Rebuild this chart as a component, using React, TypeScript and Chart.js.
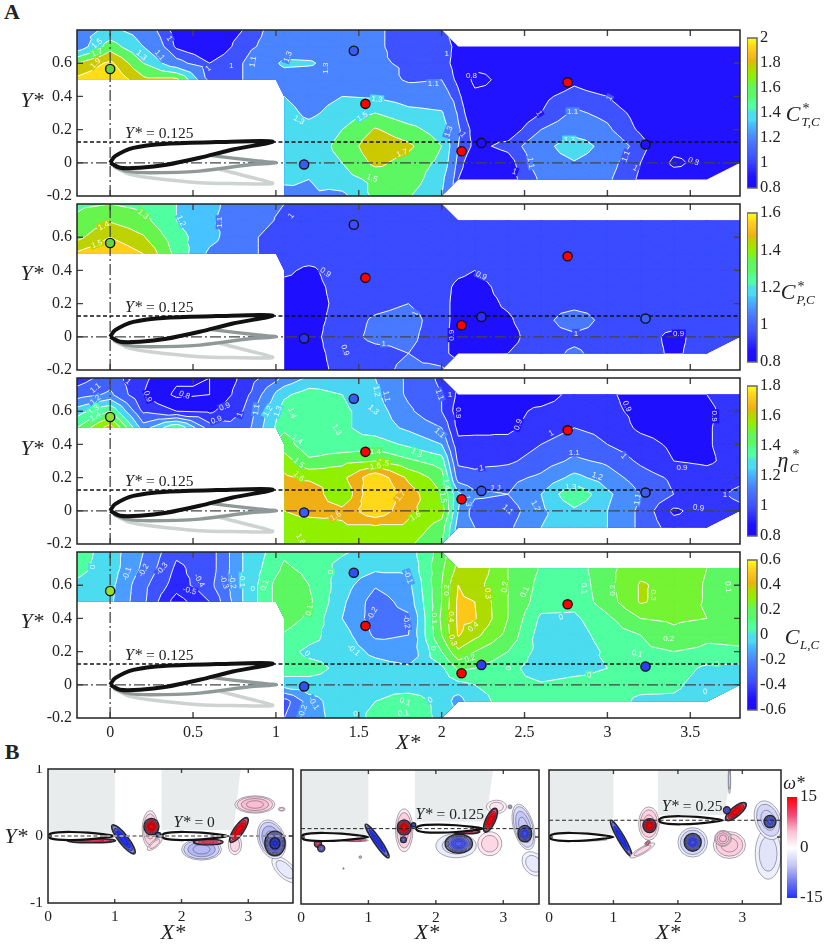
import { useRef, useEffect } from 'react';
import Chart from 'chart.js/auto';

const N = null;

// measurement grid shared by the four panels of A
const xNodes = [-0.2, 0, 0.2, 0.4, 0.6, 0.8, 1.05, 1.2, 1.4, 1.6, 1.8, 2, 2.1, 2.2, 2.4, 2.6, 2.8, 3, 3.2, 3.4, 3.6, 3.8];
const yNodes = [0.8, 0.7, 0.6, 0.5, 0.4, 0.3, 0.2, 0.1, 0, -0.1, -0.2];

const thrustGrid = [
  [1.2, 1.35, 1.2, .95, .9, 1.0, 1.2, 1.2, 1.2, 1.12, 1.05, 1.05, .9, .85, .85, .85, .85, .85, .85, .85, .85, .85],
  [1.15, 1.6, 1.3, .98, .9, 1.05, 1.2, 1.2, 1.2, 1.12, 1.05, 1.08, .95, .85, .85, .85, .85, .85, .85, .85, .85, .85],
  [1.7, 1.95, 1.5, 1.15, 1.0, 1.1, 1.33, 1.32, 1.22, 1.12, 1.08, 1.05, .95, .85, .85, .85, .85, .85, .85, .85, .85, .85],
  [1.95, 2.1, 1.75, 1.75, 1.05, 1.1, 1.22, 1.2, 1.22, 1.18, 1.08, 1.1, .97, .75, .85, .88, .97, .9, .85, .85, .85, .85],
  [N, N, N, N, N, 1.3, 1.3, 1.2, 1.3, 1.28, 1.2, 1.18, 1.03, .85, .85, .97, 1.05, 1.0, .88, .85, .85, .85],
  [N, N, N, N, N, N, 1.38, 1.25, 1.4, 1.5, 1.36, 1.32, 1.08, .88, .88, 1.0, 1.12, 1.07, .95, .85, .85, .85],
  [N, N, N, N, N, N, 1.4, 1.38, 1.5, 1.72, 1.57, 1.4, 1.12, .95, .93, 1.1, 1.18, 1.12, .98, .85, .85, .85],
  [N, N, N, N, N, N, 1.38, 1.4, 1.55, 1.85, 1.74, 1.5, 1.1, .97, 1.03, 1.2, 1.45, 1.2, 1.05, .85, .85, .85],
  [N, N, N, N, N, N, 1.35, 1.4, 1.5, 1.75, 1.62, 1.45, 1.05, .9, .95, 1.17, 1.28, 1.15, 1.0, .77, .85, .85],
  [N, N, N, N, N, N, 1.35, 1.3, 1.42, 1.55, 1.62, 1.35, 1.0, .9, .95, 1.12, 1.18, 1.12, .98, .88, .85, .85],
  [N, N, N, N, N, N, 1.2, 1.28, 1.25, 1.55, 1.52, 1.3, 1.0, .9, .95, 1.12, 1.18, 1.12, .98, .88, .85, .85],
];
const powerGrid = [
  [1.28, 1.3, 1.27, 1.2, 1.12, 1.06, 1.0, .97, .96, .96, .96, .95, .95, .95, .95, .95, .95, .95, .95, .95, .95, .95],
  [1.32, 1.39, 1.33, 1.2, 1.11, 1.06, .98, .96, .96, .96, .96, .95, .95, .95, .95, .95, .95, .95, .95, .95, .95, .95],
  [1.37, 1.5, 1.41, 1.24, 1.13, 1.03, .95, .95, .95, .95, .95, .95, .95, .95, .95, .95, .95, .95, .95, .95, .95, .95],
  [1.52, 1.6, 1.5, 1.27, 1.08, 1.03, .95, .95, .95, .95, .95, .95, .95, .95, .95, .95, .95, .95, .95, .95, .95, .95],
  [N, N, N, N, N, .95, .92, .88, .95, .95, .95, .95, .92, .9, .95, .95, .95, .95, .95, .95, .95, .95],
  [N, N, N, N, N, N, .87, .87, .93, .95, .95, .93, .88, .87, .93, .95, .95, .95, .95, .95, .95, .95],
  [N, N, N, N, N, N, .87, .87, .92, .96, 1.0, .93, .87, .87, .91, .95, .95, .95, .95, .95, .95, .95],
  [N, N, N, N, N, N, .87, .87, .93, 1.02, 1.05, .93, .87, .87, .89, .95, 1.08, .95, .95, .95, .95, .95],
  [N, N, N, N, N, N, .87, .87, .95, 1.03, 1.03, .93, .86, .87, .87, .95, .97, .95, .95, .87, .95, .95],
  [N, N, N, N, N, N, .87, .87, .93, .96, 1.0, .93, .86, .87, .9, .95, 1.02, .95, .95, .88, .95, .95],
  [N, N, N, N, N, N, .87, .87, .92, .96, 1.03, 1.02, .95, .95, .95, .95, 1.0, .95, .95, .95, .95, .95],
];
const efficiencyGrid = [
  [.95, 1.05, .92, .82, .8, .92, 1.12, 1.22, 1.22, 1.2, 1.08, .98, .95, .85, .86, .85, .93, .92, .85, .85, .9, .95],
  [1.05, 1.12, .9, .78, .8, .95, 1.28, 1.35, 1.3, 1.22, 1.08, 1.0, .88, .85, .86, .85, .93, .92, .85, .85, .9, .95],
  [1.25, 1.4, .98, .9, .88, 1.0, 1.35, 1.4, 1.32, 1.25, 1.12, 1.0, .85, .85, .87, .92, .95, .93, .87, .85, .88, .95],
  [1.4, 1.65, 1.15, 1.4, 1.05, 1.03, 1.38, 1.35, 1.32, 1.25, 1.18, 1.1, .87, .86, .88, .94, 1.0, .97, .88, .85, .89, .95],
  [N, N, N, N, N, 1.45, 1.45, 1.33, 1.33, 1.35, 1.28, 1.2, .93, .95, .93, 1.0, 1.06, 1.0, .94, .88, .89, .95],
  [N, N, N, N, N, N, 1.55, 1.42, 1.47, 1.5, 1.42, 1.35, .98, .97, .98, 1.05, 1.12, 1.08, .98, .9, .88, .95],
  [N, N, N, N, N, N, 1.62, 1.58, 1.57, 1.78, 1.58, 1.45, 1.05, 1.03, 1.07, 1.12, 1.23, 1.15, 1.05, .98, .95, .98],
  [N, N, N, N, N, N, 1.65, 1.68, 1.5, 1.82, 1.65, 1.5, 1.22, 1.12, 1.1, 1.2, 1.39, 1.22, 1.1, 1.0, .97, 1.02],
  [N, N, N, N, N, N, 1.6, 1.65, 1.63, 1.78, 1.62, 1.55, 1.2, 1.05, 1.05, 1.18, 1.28, 1.2, 1.08, .88, .95, .98],
  [N, N, N, N, N, N, 1.55, 1.52, 1.58, 1.58, 1.58, 1.45, 1.15, 1.1, 1.08, 1.2, 1.25, 1.2, 1.08, .95, .95, .95],
  [N, N, N, N, N, N, 1.52, 1.52, 1.52, 1.55, 1.52, 1.4, 1.15, 1.1, 1.08, 1.2, 1.25, 1.2, 1.08, .95, .95, .95],
];
const liftGrid = [
  [.05, -.05, -.2, -.38, -.35, -.1, .08, .03, .01, -.03, -.05, .15, .3, .38, .2, .09, .05, .17, .27, .26, .2, .11],
  [.03, -.05, -.22, -.42, -.35, -.1, .12, .07, -.03, -.08, -.08, .18, .33, .38, .2, .09, .05, .17, .27, .26, .2, .11],
  [-.02, -.07, -.27, -.45, -.33, -.1, .18, .1, -.05, -.19, -.13, .2, .4, .34, .2, .07, .03, .17, .31, .27, .19, .1],
  [-.05, -.08, -.28, -.55, -.4, -.1, .18, .12, -.08, -.25, -.16, .2, .42, .4, .2, .05, .03, .15, .31, .26, .19, .1],
  [N, N, N, N, N, .15, .15, .08, -.1, -.25, -.22, .22, .42, .41, .2, -.02, -.02, .08, .2, .22, .2, .15],
  [N, N, N, N, N, N, .09, .03, -.05, -.22, -.2, .2, .41, .33, .17, -.05, -.05, .05, .1, .17, .12, .12],
  [N, N, N, N, N, N, .03, -.02, -.03, -.13, -.18, .1, .28, .2, .1, -.04, -.07, .02, .08, .1, .08, .09],
  [N, N, N, N, N, N, .05, .03, -.02, -.05, -.08, -.02, .12, .1, .03, -.05, -.03, 0, .05, .05, -.02, -.03],
  [N, N, N, N, N, N, -.05, -.03, -.03, -.03, -.05, -.05, -.03, 0, .02, .01, .03, .03, .03, .02, -.05, -.05],
  [N, N, N, N, N, N, -.35, -.15, -.03, 0, .05, -.03, -.15, -.02, .02, .03, .05, .05, -.02, -.02, -.05, -.05],
  [N, N, N, N, N, N, -.3, -.15, -.05, .02, .08, -.03, -.05, -.02, .02, .03, .05, .05, -.02, -.02, -.05, -.05],
];

// outline of the measured region
const domainX = [-0.2, 2, 2.1, 3.8, 3.8, 3.6, 2.1, 2, 1.05, 1.05, 1, -0.2];
const domainY = [0.8, 0.8, 0.7, 0.7, 0, -0.1, -0.1, -0.2, -0.2, 0.4, 0.5, 0.5];

const thrustLevels = [1, 1.1, 1.3, 1.5, 1.7, 1.9];
const thrustLines = [0.8, 1, 1.1, 1.3, 1.5, 1.7, 1.9];
const powerLevels = [0.9, 1, 1.1, 1.2, 1.3, 1.4, 1.5];
const effLevels = [0.9, 1, 1.1, 1.2, 1.3, 1.4, 1.5, 1.6, 1.7];
const effLines = [0.8, 0.9, 1, 1.1, 1.2, 1.3, 1.4, 1.5, 1.6, 1.7];
const liftLevels = [-0.5, -0.4, -0.3, -0.2, -0.1, 0, 0.1, 0.2, 0.3, 0.4];

// contour labels: x, y, text, rotation
const thrustLabels: any[] = [
  [-.08, .72, '1.5', -40], [-.08, .665, '1.7', -20], [-.09, .6, '1.9', -45], [.19, .65, '1.3', 40], [.3, .65, '1.1', 50], [.36, .75, '1', 60],
  [.59, .57, '1', -40], [.86, .61, '1.1', -80], [.73, .59, '1', 0], [1.07, .64, '1.3', -70], [1.3, .57, '1.3', -90], [1.14, .26, '1.3', 30],
  [1.61, .385, '1.3', 5], [1.52, .28, '1.5', -30], [1.76, .06, '1.7', -20], [1.58, -.09, '1.5', 20], [1.95, .48, '1.1', 0], [2.04, .19, '1.3', -70],
  [2.03, .66, '1', 0], [2.13, .17, '1', 50], [2.18, .53, '0.8', 0], [2.59, .3, '1', 60], [2.79, .31, '1.1', 0], [2.77, .14, '1.3', 0],
  [3.01, .39, '1', -60], [3.11, .04, '1.1', -70], [2.44, -.05, '1', 20], [2.54, 0, '1.1', 80], [3.17, -.03, '1', 30], [3.52, .01, '0.8', 20],
];
const powerLabels: any[] = [
  [.2, .74, '1.3', 40], [-.04, .67, '1.4', -25], [-.08, .56, '1.5', -20], [.43, .7, '1.2', 65], [.66, .69, '1.1', -90], [1.09, .73, '1', -50],
  [1.3, .39, '0.9', 35], [1.42, -.08, '0.9', 70], [1.65, -.04, '1', 0], [1.84, .14, '1', -60], [2.24, .37, '0.9', 25], [2.06, .01, '0.9', -90],
  [2.81, .024, '1', 0], [3.43, .02, '0.9', 0],
];
const effLabels: any[] = [
  [-.09, .74, '1.1', -40], [-.09, .67, '1.2', -40], [-.1, .61, '1.3', -40], [-.09, .57, '1.4', -30], [.11, .78, '1', 40], [.23, .69, '0.9', 70],
  [.45, .7, '0.8', 20], [.69, .63, '0.9', -20], [.64, .55, '0.9', -20], [.78, .58, '1', -70], [.88, .61, '1.1', -80], [.95, .6, '1.2', -60],
  [1.01, .6, '1.3', -70], [1.1, .59, '1.4', 70], [1.37, .49, '1.3', 60], [1.61, .72, '1.2', 80], [1.67, .69, '1.1', 80], [1.59, .61, '1.3', 40],
  [1.13, .43, '1.4', 35], [1.14, .29, '1.5', 40], [1.14, .21, '1.6', 40], [1.6, .36, '1.4', 0], [1.65, .29, '1.5', 10], [1.6, .27, '1.6', -10],
  [1.75, .09, '1.7', -50], [1.36, -.03, '1.6', -30], [1.15, -.17, '1.6', 60], [1.85, .35, '1.3', 30], [1.84, -.03, '1.6', -30], [1.99, .7, '1.1', 70],
  [2.05, .7, '1', 0], [2.1, .59, '0.9', 90], [2.46, .52, '0.9', -70], [2.66, .47, '1', -30], [2.24, .26, '1', -10], [2.33, .14, '1.1', 0],
  [2.8, .35, '1.1', 0], [3.1, .33, '1', 50], [2.94, .21, '1.2', 20], [2.78, .15, '1.3', 0], [2.57, .03, '1.2', 60], [2.4, .01, '1.1', 40],
  [3.18, .07, '1.1', -80], [3.12, .63, '0.9', 65], [3.45, .26, '0.9', 0], [3.65, .57, '0.9', 90], [3.55, .02, '0.9', 10], [3.71, .1, '1', 0],
  [1.99, .47, '1.1', 40], [2.01, .08, '1.5', 80], [2.03, .16, '1.4', 80], [2.16, .06, '1.3', 80],
];
const liftLabels: any[] = [
  [-.11, .71, '0', -90], [.1, .67, '-0.1', -70], [.2, .69, '-0.2', -60], [.31, .7, '-0.3', -50], [.54, .63, '-0.4', 60], [.48, .57, '-0.5', 15],
  [.69, .62, '-0.3', 70], [.74, .62, '-0.2', 80], [.8, .63, '-0.1', 90], [.86, .58, '0', 0], [.93, .6, '0.1', -70], [1.2, .45, '0.1', -80],
  [1.33, .68, '0', 90], [1.19, .19, '0', 40], [1.47, .21, '-0.1', 40], [1.58, .43, '-0.2', -60], [1.79, .38, '-0.2', 80], [1.8, .65, '-0.1', 70],
  [1.23, -.11, '-0.1', 60], [1.16, -.16, '-0.2', -70], [1.48, -.17, '0', 0], [1.78, -.1, '0.1', 20], [1.77, -.17, '0.1', -5], [1.96, .4, '0.1', 90],
  [2.03, .57, '0.2', -90], [1.95, .22, '0', 90], [2.06, .41, '0.4', 90], [2.19, .35, '0.4', -40], [2.07, .27, '0.3', 70], [2.28, .55, '0.3', 85],
  [2.38, .59, '0.2', -85], [2.17, .16, '0.2', -15], [2.5, .56, '0.1', -65], [2.72, .41, '0', -20], [2.86, .58, '0.1', 85], [3.03, .57, '0.2', -90],
  [3.28, .54, '0.3', 90], [3.37, .28, '0.2', 0], [3.18, .19, '0.1', 15], [2.4, .1, '0', -90], [2.89, .06, '0', -5], [3.59, -.04, '0', -5],
  [3.66, .13, '0', 0], [3.73, .59, '0.1', 85], [1.93, -.09, '0', -30],
];

// force sensor locations
const markerX = [0, 1.47, 1.54, 1.17, 2.12, 2.24, 2.76, 3.23];
const markerY = [0.565, 0.675, 0.355, -0.01, 0.07, 0.12, 0.485, 0.11];
const thrustMarkers = ['#63d83c', '#3a5cf0', '#ff0000', '#3a5cf0', '#ff0000', '#2010ff', '#ff0000', '#2010ff'];
const powerMarkers = ['#63d83c', '#3c4cff', '#ff0000', '#2c30ff', '#ff0000', '#2c30ff', '#ff0000', '#3a60f5'];
const effMarkers = ['#8fe030', '#3a5cf0', '#ff0000', '#3a5cf0', '#ff0000', '#3a5cf0', '#ff0000', '#3a5cf0'];
const liftMarkers = ['#8fe030', '#3050f0', '#ff0000', '#3050f0', '#ff0000', '#2c40f0', '#ff0000', '#2c40f0'];

const foilBlackX = [0, .03, .14, .34, .64, .98, .74, .54, .34, .18, .06, 0];
const foilBlackY = [0, .04, .09, .115, .125, .128, .08, .03, -.012, -.03, -.03, 0];
const foilGreyX = [.02, .1, .24, .54, .84, 1, .88, .6];
const foilGreyY = [-.02, -.05, -.06, -.05, -.012, 0, .012, .045];
const foilLightX = [.03, .12, .24, .54, .74, .98, .86, .66];
const foilLightY = [-.03, -.07, -.09, -.12, -.125, -.125, -.09, -.04];

const xTicks = [0, 0.5, 1, 1.5, 2, 2.5, 3, 3.5];
const yTicks = [-0.2, 0, 0.2, 0.4, 0.6];

const wakeFoilX = [0, .04, .15, .35, .6, .85, 1, .85, .6, .35, .15, .04, 0];
const wakeFoilY = [0, .035, .055, .06, .05, .025, 0, -.025, -.05, -.06, -.055, -.035, 0];

// vortex patches: x, y, half length, half width, tilt, peak vorticity
const vorticesZero: any[] = [
  [.65, -.07, .36, .03, 0, 11], [1.13, -.05, .27, .07, -52, -15], [1.53, .1, .12, .28, 0, 4], [1.6, -.12, .14, .05, 40, 3], [1.55, .14, .11, .12, 0, 15],
  [1.65, .02, .04, .03, 0, -10], [2.3, -.2, .3, .16, 0, -6], [2.4, -.09, .22, .04, 0, 10], [2.8, -.13, .1, .15, 0, 3], [2.86, .09, .22, .07, 55, 15],
  [3.1, .47, .3, .13, 0, 5], [3.5, .4, .05, .03, 0, 2], [3.55, -.5, .25, .12, -45, -2], [3.35, -.05, .2, .3, 20, -6], [3.4, -.11, .15, .18, 0, -12], [3.4, -.11, .07, .08, 0, -15],
];
const vorticesMid: any[] = [
  [.8, -.05, .2, .02, 0, 8], [.25, -.1, .05, .05, 0, 10], [.3, -.17, .05, .05, 0, -10], [.88, -.3, .02, .02, 0, -2], [.63, -.47, .01, .01, 0, -4],
  [1.13, -.06, .3, .05, -55, -15], [1.53, .1, .13, .32, 0, 4], [1.53, .14, .1, .11, 0, 15], [1.67, .18, .03, .03, 0, -12], [1.52, -.04, .04, .04, 0, -10],
  [2.3, -.13, .3, .18, 0, -3], [2.34, -.1, .2, .14, 0, -12], [2.45, .08, .2, .03, 0, 10], [2.8, -.1, .18, .18, 35, 3], [2.9, .45, .15, .1, 0, 2], [2.81, .25, .19, .07, 65, 15],
  [3.45, -.4, .2, .15, -50, -2], [3.3, .15, .15, .35, 15, -5], [3.32, .05, .1, .12, 0, -13], [3.1, .45, .03, .03, 0, -4],
];
const vorticesHigh: any[] = [
  [.6, -.04, .3, .02, 0, 3], [1.12, -.02, .32, .05, -60, -15], [1.55, .2, .16, .25, 0, 4], [1.56, .17, .1, .1, 0, 15], [1.45, -.2, .22, .05, 30, 3], [1.53, -.09, .05, .03, 40, 8],
  [2.23, -.08, .23, .22, 0, -4], [2.23, -.08, .13, .13, 0, -13], [2.8, -.12, .25, .2, 0, 4], [2.7, -.02, .13, .12, 0, 5], [2.9, .38, .2, .07, 40, 15], [2.76, .4, .05, .05, 0, -12], [2.8, .85, .02, .2, 0, -3],
  [3.4, -.25, .2, .38, 0, -2.5], [3.4, .25, .2, .3, 20, -4], [3.43, .23, .09, .09, 0, -12],
];

const maskZeroX = [[0, 1, 1, 0], [1.7, 2.885, 2.78, 1.7]];
const maskZeroY = [[1, 1, .04, .04], [1, 1, .09, .09]];
const maskMidX = [[0, 1, 1, 0], [1.69, 2.85, 2.74, 1.69]];
const maskMidY = [[1, 1, .03, .03], [1, 1, .23, .23]];
const maskHighX = [[0, 1, 1, 0], [1.69, 2.83, 2.72, 1.69]];
const maskHighY = [[1, 1, .05, .05], [1, 1, .33, .33]];

const wakeXTicks = [0, 1, 2, 3];
const wakeYTicks = [-1, 0, 1];

const serif = '"Liberation Serif", serif';

// blue -> cyan -> green -> yellow map, sampled from the bands
const stops: [number, number[]][] = [
  [0, [26, 12, 255]], [.08, [32, 16, 255]], [.19, [60, 76, 255]], [.32, [74, 124, 255]], [.4375, [71, 196, 255]], [.455, [76, 220, 240]], [.5, [76, 220, 240]],
  [.54, [80, 255, 160]], [.57, [80, 255, 160]], [.62, [92, 247, 98]], [.67, [92, 247, 98]], [.75, [144, 240, 0]], [.835, [205, 200, 0]], [.85, [238, 176, 21]], [.94, [255, 208, 28]], [1, [255, 255, 16]],
];
function cmap(t: number) {
  t = Math.max(0, Math.min(1, t));
  for (let i = 1; i < stops.length; i++) {
    if (t <= stops[i][0]) {
      const f = (t - stops[i - 1][0]) / (stops[i][0] - stops[i - 1][0]);
      const c = stops[i - 1][1].map((a, k) => Math.round(a + (stops[i][1][k] - a) * f));
      return `rgb(${c[0]},${c[1]},${c[2]})`;
    }
  }
  return 'rgb(255,255,16)';
}

const wakeStopsPos = [[255, 255, 255], [249, 190, 210], [240, 70, 115], [255, 0, 10]];
const wakeStopsNeg = [[255, 255, 255], [197, 200, 245], [112, 120, 238], [32, 48, 255]];
function wakeColor(v: number) {
  const list = v >= 0 ? wakeStopsPos : wakeStopsNeg;
  const t = Math.min(1, Math.abs(v) / 15) * 3;
  const i = Math.min(2, Math.floor(t));
  const f = t - i;
  const c = list[i].map((a, k) => Math.round(a + (list[i + 1][k] - a) * f));
  return `rgb(${c[0]},${c[1]},${c[2]})`;
}

function clipAbove(tri: number[][], level: number) {
  const out: number[][] = [];
  for (let i = 0; i < tri.length; i++) {
    const a = tri[i];
    const b = tri[(i + 1) % tri.length];
    if (a[2] >= level) out.push(a);
    if ((a[2] >= level) !== (b[2] >= level)) {
      const f = (level - a[2]) / (b[2] - a[2]);
      out.push([a[0] + (b[0] - a[0]) * f, a[1] + (b[1] - a[1]) * f, level]);
    }
  }
  return out;
}

function triangles(grid: (number | null)[][]) {
  const list: number[][][] = [];
  for (let r = 0; r < yNodes.length - 1; r++) {
    for (let c = 0; c < xNodes.length - 1; c++) {
      const v = [grid[r][c], grid[r][c + 1], grid[r + 1][c + 1], grid[r + 1][c]];
      if (v.some((a) => a === null)) continue;
      const p = [
        [xNodes[c], yNodes[r], v[0]], [xNodes[c + 1], yNodes[r], v[1]],
        [xNodes[c + 1], yNodes[r + 1], v[2]], [xNodes[c], yNodes[r + 1], v[3]],
      ] as number[][];
      const m = [(xNodes[c] + xNodes[c + 1]) / 2, (yNodes[r] + yNodes[r + 1]) / 2, (p[0][2] + p[1][2] + p[2][2] + p[3][2]) / 4];
      for (let k = 0; k < 4; k++) list.push([p[k], p[(k + 1) % 4], m]);
    }
  }
  return list;
}

function valueAt(grid: (number | null)[][], x: number, y: number) {
  let c = 0;
  while (c < xNodes.length - 2 && xNodes[c + 1] < x) c++;
  let r = 0;
  while (r < yNodes.length - 2 && yNodes[r + 1] > y) r++;
  const fx = Math.max(0, Math.min(1, (x - xNodes[c]) / (xNodes[c + 1] - xNodes[c])));
  const fy = Math.max(0, Math.min(1, (y - yNodes[r]) / (yNodes[r + 1] - yNodes[r])));
  const g = (a: number, b: number) => (grid[a][b] ?? grid[a][xNodes.length - 1]) as number;
  return (g(r, c) * (1 - fx) + g(r, c + 1) * fx) * (1 - fy) + (g(r + 1, c) * (1 - fx) + g(r + 1, c + 1) * fx) * fy;
}

const framePlugin = {
  id: 'frame',
  afterDraw(chart: any) {
    const { ctx, chartArea: a, scales } = chart;
    const len = chart.options.plugins.frame.tick;
    ctx.save();
    ctx.strokeStyle = '#444';
    ctx.lineWidth = 1.4;
    ctx.beginPath();
    scales.x.ticks.forEach((t: any) => {
      const p = scales.x.getPixelForValue(t.value);
      if (p <= a.left + 1 || p >= a.right - 1) return;
      ctx.moveTo(p, a.top); ctx.lineTo(p, a.top + len);
      ctx.moveTo(p, a.bottom); ctx.lineTo(p, a.bottom - len);
    });
    scales.y.ticks.forEach((t: any) => {
      const p = scales.y.getPixelForValue(t.value);
      if (p <= a.top + 1 || p >= a.bottom - 1) return;
      ctx.moveTo(a.left, p); ctx.lineTo(a.left + len, p);
      ctx.moveTo(a.right, p); ctx.lineTo(a.right - len, p);
    });
    ctx.stroke();
    ctx.strokeStyle = '#222';
    ctx.lineWidth = 1.5;
    ctx.strokeRect(a.left, a.top, a.right - a.left, a.bottom - a.top);
    ctx.restore();
  },
};

// the tick labels must not push the plot area in, every frame sits at a fixed place
function noPadding(s: any) {
  s.paddingTop = 0;
  s.paddingBottom = 0;
  s.paddingLeft = 0;
  s.paddingRight = 0;
}

function axisOptions(xT: number[], yT: number[], xMin: number, xMax: number, yMin: number, yMax: number, m: any, showX: boolean, showY: boolean, size: number) {
  return {
    x: {
      type: 'linear', min: xMin, max: xMax,
      afterBuildTicks: (s: any) => { s.ticks = xT.map((v) => ({ value: v })); },
      afterFit: (s: any) => { s.height = m.bottom; noPadding(s); },
      grid: { display: false, drawTicks: false }, border: { display: false },
      ticks: { display: !!showX, autoSkip: false, maxRotation: 0, padding: 5, color: '#222', font: { family: serif, size }, callback: (v: any) => String(v) },
    },
    y: {
      type: 'linear', min: yMin, max: yMax,
      afterBuildTicks: (s: any) => { s.ticks = yT.map((v) => ({ value: v })); },
      afterFit: (s: any) => { s.width = m.left; noPadding(s); },
      grid: { display: false, drawTicks: false }, border: { display: false },
      ticks: { display: !!showY, autoSkip: false, padding: 5, color: '#222', font: { family: serif, size }, callback: (v: any) => String(v) },
    },
  };
}

function useChart(build: (c: HTMLCanvasElement) => Chart) {
  const ref = useRef<HTMLCanvasElement>(null);
  useEffect(() => {
    if (!ref.current) return;
    const chart = build(ref.current);
    return () => chart.destroy();
  }, []);
  return ref;
}

function FieldPanel({ left, top, grid, levels, lines, cmin, cmax, labels, markers, showX }: any) {
  const m = { left: 50, top: 4, right: 3, bottom: showX ? 26 : 4 };
  const W = 663;
  const H = 166;
  const ref = useChart((canvas) => {
    const tris = triangles(grid);
    const bands = [cmin, ...levels, cmax];
    const bandColor = (i: number) => cmap(((bands[i] + bands[i + 1]) / 2 - cmin) / (cmax - cmin));
    const colorOf = (v: number) => {
      let i = 0;
      while (i < levels.length && v >= levels[i]) i++;
      return bandColor(i);
    };
    const contourPlugin = {
      id: 'contour',
      beforeDatasetsDraw(chart: any) {
        const { ctx, scales } = chart;
        const px = (p: number[]) => [scales.x.getPixelForValue(p[0]), scales.y.getPixelForValue(p[1])];
        ctx.save();
        ctx.beginPath();
        domainX.forEach((x, i) => {
          const q = px([x, domainY[i]]);
          if (i) ctx.lineTo(q[0], q[1]); else ctx.moveTo(q[0], q[1]);
        });
        ctx.closePath();
        ctx.clip();
        ctx.fillStyle = bandColor(0);
        ctx.fillRect(0, 0, chart.width, chart.height);
        levels.forEach((lv: number, li: number) => {
          ctx.beginPath();
          tris.forEach((t) => {
            const poly = clipAbove(t, lv);
            if (poly.length < 3) return;
            poly.forEach((p, i) => {
              const q = px(p);
              if (i) ctx.lineTo(q[0], q[1]); else ctx.moveTo(q[0], q[1]);
            });
            ctx.closePath();
          });
          ctx.fillStyle = bandColor(li + 1);
          ctx.strokeStyle = bandColor(li + 1);
          ctx.lineWidth = 0.6;
          ctx.fill();
          ctx.stroke();
        });
        ctx.strokeStyle = 'rgba(255,255,255,0.95)';
        ctx.lineWidth = 1;
        ctx.lineJoin = 'round';
        lines.forEach((lv0: number) => {
          const lv = lv0 + 1e-6;
          ctx.beginPath();
          tris.forEach((t) => {
            const pts: number[][] = [];
            for (let i = 0; i < 3; i++) {
              const a = t[i];
              const b = t[(i + 1) % 3];
              if ((a[2] >= lv) !== (b[2] >= lv)) {
                const f = (lv - a[2]) / (b[2] - a[2]);
                pts.push(px([a[0] + (b[0] - a[0]) * f, a[1] + (b[1] - a[1]) * f]));
              }
            }
            if (pts.length === 2) {
              ctx.moveTo(pts[0][0], pts[0][1]);
              ctx.lineTo(pts[1][0], pts[1][1]);
            }
          });
          ctx.stroke();
        });
        ctx.font = '8px "Liberation Sans", sans-serif';
        ctx.textAlign = 'center';
        ctx.textBaseline = 'middle';
        labels.forEach((l: any) => {
          const q = px([l[0], l[1]]);
          ctx.save();
          ctx.translate(q[0], q[1]);
          ctx.rotate((l[3] * Math.PI) / 180);
          const w = ctx.measureText(l[2]).width + 3;
          ctx.fillStyle = colorOf(valueAt(grid, l[0], l[1]));
          ctx.fillRect(-w / 2, -4, w, 8);
          ctx.fillStyle = 'rgba(255,255,255,0.9)';
          ctx.fillText(l[2], 0, 0.5);
          ctx.restore();
        });
        ctx.restore();
      },
      afterDatasetsDraw(chart: any) {
        const { ctx, scales } = chart;
        ctx.save();
        ctx.fillStyle = '#222';
        ctx.textBaseline = 'middle';
        ctx.font = `italic 16px ${serif}`;
        const x0 = scales.x.getPixelForValue(0.09);
        const y0 = scales.y.getPixelForValue(0.175);
        ctx.fillText('Y*', x0, y0);
        ctx.font = `15.5px ${serif}`;
        ctx.fillText('= 0.125', x0 + 21, y0);
        ctx.restore();
      },
    };
    const pairs = (xs: number[], ys: number[]) => xs.map((x, i) => ({ x, y: ys[i] }));
    return new Chart(canvas, {
      type: 'scatter',
      data: {
        datasets: [
          {
            data: pairs(markerX, markerY), pointRadius: 4.6, pointBorderWidth: 1.4, pointBorderColor: '#111', pointBackgroundColor: markers,
          },
          { data: pairs(foilBlackX, foilBlackY), showLine: true, tension: 0.3, borderColor: '#111', borderWidth: 4, pointRadius: 0 },
          { data: pairs(foilGreyX, foilGreyY), showLine: true, tension: 0.3, borderColor: '#8f9a98', borderWidth: 3.4, pointRadius: 0 },
          { data: pairs(foilLightX, foilLightY), showLine: true, tension: 0.3, borderColor: '#cdd3d1', borderWidth: 3.4, pointRadius: 0 },
          { data: pairs([-0.2, 3.8], [0.125, 0.125]), showLine: true, borderColor: '#111', borderWidth: 1.6, borderDash: [4, 2.5], pointRadius: 0 },
          { data: pairs([-0.2, 3.8], [0, 0]), showLine: true, borderColor: '#444', borderWidth: 1.3, borderDash: [11, 3, 2, 3], pointRadius: 0 },
          { data: pairs([0, 0], [-0.2, 0.8]), showLine: true, borderColor: '#444', borderWidth: 1.3, borderDash: [11, 3, 2, 3], pointRadius: 0 },
        ],
      },
      options: {
        animation: false, responsive: false,
        layout: { autoPadding: false, padding: { left: 0, top: m.top, right: m.right, bottom: 0 } },
        plugins: { legend: { display: false }, tooltip: { enabled: false }, frame: { tick: 6 } },
        scales: axisOptions(xTicks, yTicks, -0.2, 3.8, -0.2, 0.8, m, showX, true, 16),
      } as any,
      plugins: [contourPlugin, framePlugin],
    } as any);
  });
  return (
    <div style={{ position: 'absolute', left: left - m.left, top: top - m.top }}>
      <canvas ref={ref} width={W + m.left + m.right} height={H + m.top + m.bottom} />
    </div>
  );
}

function ColorBar({ left, top, bottom, min, max, ticks, wake }: any) {
  const m = { left: 0, top: 10, right: 42, bottom: 10 };
  const W = 10;
  const H = bottom - top;
  const ref = useChart((canvas) => {
    const barPlugin = {
      id: 'bar',
      beforeDatasetsDraw(chart: any) {
        const { ctx, chartArea: a } = chart;
        for (let y = Math.floor(a.top); y < a.bottom; y++) {
          const t = 1 - (y - a.top) / (a.bottom - a.top);
          ctx.fillStyle = wake ? wakeColor(t * 30 - 15) : cmap(t);
          ctx.fillRect(a.left, y, a.right - a.left, 1);
        }
        if (!wake) {
          ctx.strokeStyle = '#666';
          ctx.lineWidth = 1.5;
          ctx.strokeRect(a.left, a.top, a.right - a.left, a.bottom - a.top);
        }
      },
    };
    return new Chart(canvas, {
      type: 'scatter',
      data: { datasets: [{ data: [], pointRadius: 0 }] },
      options: {
        animation: false, responsive: false,
        layout: { autoPadding: false, padding: { left: 0, top: m.top, right: 0, bottom: m.bottom } },
        plugins: { legend: { display: false }, tooltip: { enabled: false } },
        scales: {
          x: { type: 'linear', display: false, min: 0, max: 1 },
          y: {
            type: 'linear', position: 'right', min, max,
            afterBuildTicks: (s: any) => { s.ticks = ticks.map((v: number) => ({ value: v })); },
            afterFit: (s: any) => { s.width = m.right; noPadding(s); },
            grid: { display: false, drawTicks: false }, border: { display: false },
            ticks: { autoSkip: false, padding: 3, color: '#222', font: { family: serif, size: wake ? 17 : 16.5 }, callback: (v: any) => String(v) },
          },
        },
      } as any,
      plugins: [barPlugin],
    } as any);
  });
  return (
    <div style={{ position: 'absolute', left, top: top - m.top }}>
      <canvas ref={ref} width={W + m.right} height={H + m.top + m.bottom} />
    </div>
  );
}

function WakePanel({ left, top, right, bottom, xMax, yStar, lineColor, lineWidth, vortices, maskX, maskY, showY, label, labelX }: any) {
  const m = { left: 24, top: 4, right: 3, bottom: 24 };
  const W = right - left;
  const H = bottom - top;
  const ref = useChart((canvas) => {
    const wakePlugin = {
      id: 'wake',
      beforeDatasetsDraw(chart: any) {
        const { ctx, scales, chartArea: a } = chart;
        const X = (v: number) => scales.x.getPixelForValue(v);
        const Y = (v: number) => scales.y.getPixelForValue(v);
        ctx.save();
        ctx.beginPath();
        ctx.rect(a.left, a.top, a.right - a.left, a.bottom - a.top);
        ctx.clip();
        ctx.fillStyle = '#e9ecec';
        maskX.forEach((xs: number[], k: number) => {
          ctx.beginPath();
          xs.forEach((x, i) => {
            if (i) ctx.lineTo(X(x), Y(maskY[k][i])); else ctx.moveTo(X(x), Y(maskY[k][i]));
          });
          ctx.closePath();
          ctx.fill();
        });
        vortices.forEach((b: any) => {
          const cx = X(b[0]);
          const cy = Y(b[1]);
          const rx = X(b[0] + b[2]) - cx;
          const ry = cy - Y(b[1] + b[3]);
          const size = Math.min(rx, ry);
          const strong = Math.abs(b[5]) >= 10;
          const n = Math.max(2, Math.min(Math.ceil(size / 1.2) + 1, Math.ceil(Math.abs(b[5]) / 1.6)));
          for (let i = 0; i < n; i++) {
            const f = 1 - Math.pow(i / n, 1.5) * 0.88;
            ctx.beginPath();
            ctx.ellipse(cx, cy, rx * f, ry * f, (-b[4] * Math.PI) / 180, 0, Math.PI * 2);
            ctx.fillStyle = wakeColor(b[5] * Math.min(1, ((i + 0.8) / n) * 1.5));
            ctx.fill();
            ctx.strokeStyle = strong ? `rgba(20,20,28,${i < n / 2 ? 0.9 : 0.45})` : 'rgba(40,40,55,0.55)';
            ctx.lineWidth = strong && i === 0 ? 1.7 : 0.7;
            ctx.stroke();
          }
        });
        ctx.fillStyle = '#fff';
        [[0, 0], [1.7, yStar]].forEach((o) => {
          ctx.beginPath();
          wakeFoilX.forEach((x, i) => {
            if (i) ctx.lineTo(X(x + o[0]), Y(wakeFoilY[i] + o[1])); else ctx.moveTo(X(x + o[0]), Y(wakeFoilY[i] + o[1]));
          });
          ctx.closePath();
          ctx.fill();
        });
        ctx.restore();
      },
      afterDatasetsDraw(chart: any) {
        const { ctx, scales } = chart;
        ctx.save();
        ctx.fillStyle = '#222';
        ctx.textBaseline = 'middle';
        const x0 = scales.x.getPixelForValue(labelX);
        const y0 = scales.y.getPixelForValue(yStar + 0.2);
        ctx.font = `italic 16px ${serif}`;
        ctx.fillText('Y*', x0, y0);
        ctx.font = `15.5px ${serif}`;
        ctx.fillText(`= ${label}`, x0 + 21, y0);
        ctx.restore();
      },
    };
    const foil = (dx: number, dy: number) => wakeFoilX.map((x, i) => ({ x: x + dx, y: wakeFoilY[i] + dy }));
    return new Chart(canvas, {
      type: 'scatter',
      data: {
        datasets: [
          { data: [{ x: 0, y: yStar }, { x: xMax, y: yStar }], showLine: true, borderColor: lineColor, borderWidth: lineWidth, borderDash: [4, 2.5], pointRadius: 0 },
          { data: foil(0, 0), showLine: true, tension: 0.3, borderColor: '#111', borderWidth: 2.2, pointRadius: 0 },
          { data: foil(1.7, yStar), showLine: true, tension: 0.3, borderColor: '#111', borderWidth: 2.2, pointRadius: 0 },
        ],
      },
      options: {
        animation: false, responsive: false,
        layout: { autoPadding: false, padding: { left: 0, top: m.top, right: m.right, bottom: 0 } },
        plugins: { legend: { display: false }, tooltip: { enabled: false }, frame: { tick: 4 } },
        scales: axisOptions(wakeXTicks, wakeYTicks, 0, xMax, -1, 1, m, true, showY, 15.5),
      } as any,
      plugins: [wakePlugin, framePlugin],
    } as any);
  });
  return (
    <div style={{ position: 'absolute', left: left - m.left, top: top - m.top }}>
      <canvas ref={ref} width={W + m.left + m.right} height={H + m.top + m.bottom} />
    </div>
  );
}

function Txt({ x, y, size = 20, italic = false, bold = false, children }: any) {
  return (
    <span style={{
      position: 'absolute', left: x, top: y, transform: 'translate(-50%,-50%)', fontFamily: serif, fontSize: size,
      fontStyle: italic ? 'italic' : 'normal', fontWeight: bold ? 700 : 400, color: '#222', whiteSpace: 'nowrap', lineHeight: 1,
    }}>{children}</span>
  );
}

function Symbol({ x, y, base, sub, star = true }: any) {
  return (
    <>
      <Txt x={x} y={y} size={22} italic>{base}</Txt>
      {star && <Txt x={x + 13} y={y - 5} size={14}>*</Txt>}
      <Txt x={x + 8 + sub.length * 3.2} y={y + 7} size={13} italic>{sub}</Txt>
    </>
  );
}

export default function App() {
  return (
    <div style={{ position: 'absolute', left: 0, top: 0, width: 831, height: 946, background: '#fff', overflow: 'hidden' }}>
      <Txt x={12} y={12} size={22} bold>A</Txt>
      <Txt x={12} y={752} size={22} bold>B</Txt>

      <FieldPanel left={77} top={30} grid={thrustGrid} levels={thrustLevels} lines={thrustLines} cmin={0.8} cmax={2} labels={thrustLabels} markers={thrustMarkers} />
      <FieldPanel left={77} top={204} grid={powerGrid} levels={powerLevels} lines={powerLevels} cmin={0.8} cmax={1.6} labels={powerLabels} markers={powerMarkers} />
      <FieldPanel left={77} top={378} grid={efficiencyGrid} levels={effLevels} lines={effLines} cmin={0.8} cmax={1.8} labels={effLabels} markers={effMarkers} />
      <FieldPanel left={77} top={552} grid={liftGrid} levels={liftLevels} lines={liftLevels} cmin={-0.6} cmax={0.6} labels={liftLabels} markers={liftMarkers} showX />

      <ColorBar left={747} top={38} bottom={188} min={0.8} max={2} ticks={[0.8, 1, 1.2, 1.4, 1.6, 1.8, 2]} />
      <ColorBar left={747} top={213} bottom={362} min={0.8} max={1.6} ticks={[0.8, 1, 1.2, 1.4, 1.6]} />
      <ColorBar left={747} top={386} bottom={536} min={0.8} max={1.8} ticks={[0.8, 1, 1.2, 1.4, 1.6, 1.8]} />
      <ColorBar left={747} top={560} bottom={710} min={-0.6} max={0.6} ticks={[-0.6, -0.4, -0.2, 0, 0.2, 0.4, 0.6]} />
      <ColorBar left={787} top={797} bottom={898} min={-15} max={15} ticks={[-15, 0, 15]} wake />

      <Txt x={32} y={100} size={22} italic>Y*</Txt>
      <Txt x={32} y={273} size={22} italic>Y*</Txt>
      <Txt x={32} y={448} size={22} italic>Y*</Txt>
      <Txt x={32} y={621} size={22} italic>Y*</Txt>
      <Txt x={408} y={742} size={22} italic>X*</Txt>

      <Symbol x={793} y={114} base="C" sub="T,C" />
      <Symbol x={788} y={292} base="C" sub="P,C" />
      <Symbol x={783} y={460} base="η" sub="C" />
      <Symbol x={792} y={637} base="C" sub="L,C" star={false} />
      <Txt x={794} y={783} size={18} italic>ω*</Txt>

      <WakePanel left={48} top={769} right={293} bottom={903} xMax={3.67} yStar={0} lineColor="#999" lineWidth={1.8} vortices={vorticesZero} maskX={maskZeroX} maskY={maskZeroY} showY label="0" labelX={1.88} />
      <WakePanel left={301} top={770} right={539} bottom={904} xMax={3.53} yStar={0.125} lineColor="#222" lineWidth={1} vortices={vorticesMid} maskX={maskMidX} maskY={maskMidY} label="0.125" labelX={1.7} />
      <WakePanel left={549} top={770} right={781} bottom={904} xMax={3.6} yStar={0.25} lineColor="#222" lineWidth={1} vortices={vorticesHigh} maskX={maskHighX} maskY={maskHighY} label="0.25" labelX={1.75} />

      <Txt x={16} y={836} size={22} italic>Y*</Txt>
      <Txt x={173} y={932} size={22} italic>X*</Txt>
      <Txt x={427} y={932} size={22} italic>X*</Txt>
      <Txt x={668} y={932} size={22} italic>X*</Txt>
    </div>
  );
}
